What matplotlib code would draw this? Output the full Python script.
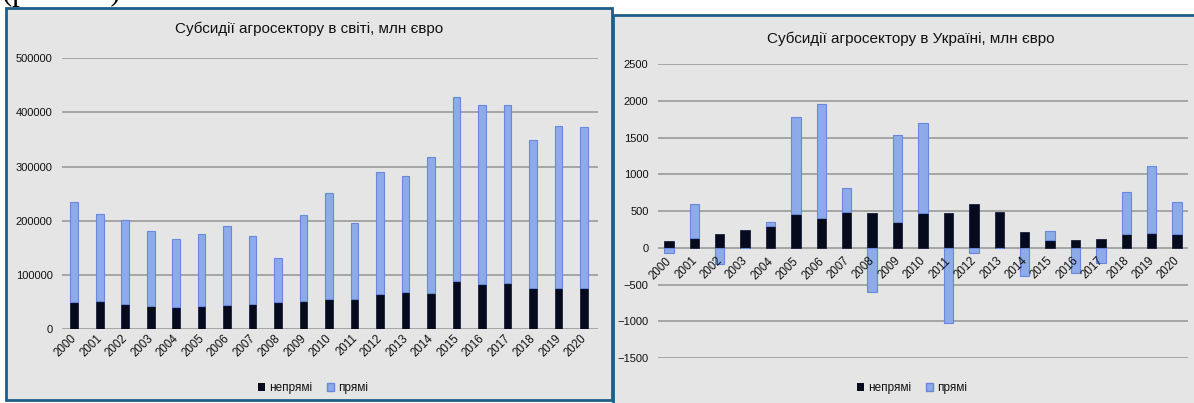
import matplotlib.pyplot as plt
from matplotlib.patches import Rectangle, Patch

plt.rcParams['font.family'] = 'Liberation Sans'

years = ['2000', '2001', '2002', '2003', '2004', '2005', '2006', '2007', '2008', '2009', '2010',
         '2011', '2012', '2013', '2014', '2015', '2016', '2017', '2018', '2019', '2020']

# world, mln EUR
world_indirect = [51000, 53000, 47500, 42500, 40500, 42500, 45000, 47500, 49500, 53000, 55000,
                  55000, 65500, 69000, 67500, 89500, 83500, 85000, 77000, 77000, 75500]
world_direct = [184000, 160000, 154500, 139500, 126500, 133500, 145000, 124500, 81500, 157000, 196000,
                141000, 225500, 214000, 250500, 339500, 329500, 328000, 273000, 299000, 297500]
world_ticks = [0, 100000, 200000, 300000, 400000, 500000]

# Ukraine, mln EUR
ua_indirect = [90, 130, 190, 250, 295, 455, 410, 485, 480, 350, 470,
               480, 595, 495, 220, 105, 105, 120, 190, 205, 190]
ua_direct = [-70, 470, -220, 0, 60, 1330, 1550, 330, -600, 1190, 1235,
             -1020, -70, 0, -380, 130, -340, -200, 570, 905, 435]
ua_ticks = [-1500, -1000, -500, 0, 500, 1000, 1500, 2000, 2500]

W, H = 1194, 403
black = '#050a1c'
blue = '#8eaae8'
blue_edge = '#6688dd'
grid_c = '#a0a0a0'
panel_c = '#e5e5e5'
border_c = '#1d5f86'
txt_c = '#111111'

fig = plt.figure(figsize=(W / 100, H / 100), dpi=100)
fig.patch.set_facecolor('white')

def px(x0, y0, x1, y1):
    return [x0 / W, 1 - y1 / H, (x1 - x0) / W, (y1 - y0) / H]

# panels (right one first, left one sits on top of it)
for x0, y0, x1, y1 in [(613, 15, 1200, 410), (6, 8, 612, 400)]:
    fig.add_artist(Rectangle((x0 / W, 1 - y1 / H), (x1 - x0) / W, (y1 - y0) / H,
                             transform=fig.transFigure, facecolor=panel_c,
                             edgecolor=border_c, linewidth=2.0, zorder=0))

# caption of the figure, cut off by the top edge as in the source
fig.text(2 / W, 1.0, '(рис. 1.1)', fontsize=22, family='Liberation Serif',
         ha='left', va='baseline')

def draw(ax, indirect, direct, ticks, width, lab_dx, lab_dy):
    x = list(range(len(years)))
    bottoms = [i if d > 0 else 0 for i, d in zip(indirect, direct)]
    ax.bar(x, indirect, width=width, color=black, edgecolor='#1a2040', linewidth=0.6, zorder=3)
    ax.bar(x, direct, width=width, bottom=bottoms, color=blue, edgecolor=blue_edge,
           linewidth=0.8, zorder=3)
    ax.set_facecolor('none')
    for s in ax.spines.values():
        s.set_visible(False)
    ax.set_yticks(ticks)
    ax.set_ylim(ticks[0], ticks[-1])
    ax.yaxis.grid(True, color=grid_c, linewidth=1.3, zorder=1)
    ax.set_axisbelow(True)
    ax.tick_params(axis='y', length=0, pad=6.8, labelsize=8, labelcolor=txt_c)
    ax.set_xticks([])
    for i, yr in enumerate(years):
        ax.annotate(yr, xy=(i, 0), xytext=(lab_dx, lab_dy), textcoords='offset pixels',
                    rotation=45, ha='right', va='top', fontsize=8.3, color=txt_c)

ax1 = fig.add_axes(px(62, 58.3, 598, 329.3))
draw(ax1, world_indirect, world_direct, world_ticks, 0.30, 5, -3)
ax1.set_xlim(-0.48, 20.55)

ax2 = fig.add_axes(px(658, 64.3, 1188, 358))
draw(ax2, ua_indirect, ua_direct, ua_ticks, 0.37, 5, -7)
ax2.set_xlim(-0.43, 20.43)

fig.text(309 / W, 1 - 29 / H, 'Субсидії агросектору в світі, млн євро',
         ha='center', va='center', fontsize=11, color=txt_c)
fig.text(911 / W, 1 - 39 / H, 'Субсидії агросектору в Україні, млн євро',
         ha='center', va='center', fontsize=11, color=txt_c)

handles = [Patch(facecolor=black), Patch(facecolor=blue, edgecolor=blue_edge)]
for cx, cy in [(313, 388), (912, 388)]:
    fig.legend(handles, ['непрямі', 'прямі'], loc='center', bbox_to_anchor=(cx / W, 1 - cy / H),
               ncol=2, frameon=False, fontsize=8.5, handlelength=0.6, handleheight=0.6,
               columnspacing=1.3, handletextpad=0.3, labelcolor=txt_c)

fig.savefig('out.png', dpi=100)
